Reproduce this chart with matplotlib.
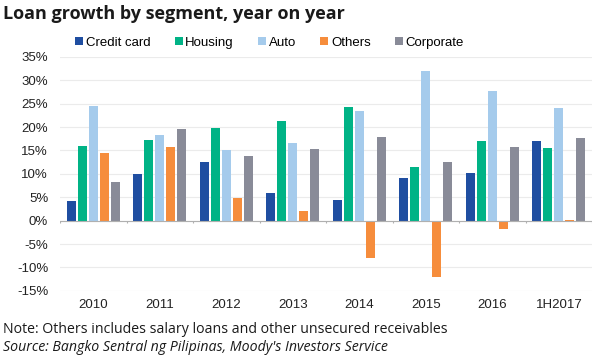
import matplotlib
matplotlib.use("Agg")
import matplotlib.pyplot as plt
import numpy as np

years = ["2010", "2011", "2012", "2013", "2014", "2015", "2016", "1H2017"]
segments = ["Credit card", "Housing", "Auto", "Others", "Corporate"]
creditCard = [4.2, 10.0, 12.5, 5.9, 4.4, 9.1, 10.2, 17.0]
housing = [15.9, 17.3, 19.8, 21.2, 24.2, 11.4, 17.1, 15.6]
auto = [24.5, 18.3, 15.0, 16.6, 23.4, 31.9, 27.7, 24.0]
others = [14.5, 15.8, 4.9, 2.0, -7.9, -12.1, -1.8, 0.1]
corporate = [8.3, 19.5, 13.9, 15.4, 17.9, 12.6, 15.8, 17.7]
yTicks = [-15, -10, -5, 0, 5, 10, 15, 20, 25, 30, 35]

series = [creditCard, housing, auto, others, corporate]
colors = ["#1f4ea1", "#00b386", "#a5cbec", "#f68d3c", "#898b98"]
tickFont = "Liberation Sans"

figure = plt.figure(figsize=(6, 3.6), dpi=100)
axes = figure.add_axes([0.1, 0.192, 0.887, 0.65])

x = np.arange(len(years))
pitch = 0.165
width = 0.135
for i, (values, color, name) in enumerate(zip(series, colors, segments)):
    axes.bar(x + (i - 2) * pitch, values, width, color=color, label=name, zorder=3)

axes.set_xlim(-0.5, len(years) - 0.5)
axes.set_ylim(-15, 35)
axes.set_yticks(yTicks)
axes.set_yticklabels(["{0}%".format(t) for t in yTicks], fontsize=9.5, family=tickFont, color="#222222")
axes.set_xticks(x)
axes.set_xticklabels(years, fontsize=9.5, family=tickFont, color="#222222")
axes.tick_params(length=0)
axes.tick_params(axis="y", pad=8.5)
axes.tick_params(axis="x", pad=6)
axes.grid(axis="y", color="#ebebeb", linewidth=0.8, zorder=0)
for side in axes.spines:
    axes.spines[side].set_visible(False)
axes.axhline(0, color="#b0b0b0", linewidth=0.8, zorder=4)
axes.vlines(np.arange(len(years) + 1) - 0.5, -0.6, 0, color="#b0b0b0", linewidth=0.8, zorder=4)

figure.legend(loc="center left", bbox_to_anchor=(0.125, 0.881), ncol=5, frameon=False,
              prop={"family": tickFont, "size": 9.5}, handlelength=0.6, handleheight=0.6,
              handletextpad=0.2, columnspacing=1.85, borderaxespad=0, borderpad=0)

figure.text(0.005, 0.962, "Loan growth by segment, year on year", fontsize=13,
            fontweight="bold", family="Open Sans", va="center", ha="left", color="#1a1a1a")
figure.text(0.005, 0.084, "Note: Others includes salary loans and other unsecured receivables",
            fontsize=10.2, family="Open Sans", va="center", ha="left", color="#1a1a1a")
figure.text(0.005, 0.036, "Source: Bangko Sentral ng Pilipinas, Moody's Investors Service",
            fontsize=10.2, family="Open Sans", style="italic", va="center", ha="left", color="#1a1a1a")

figure.savefig("out.png", dpi=100)
